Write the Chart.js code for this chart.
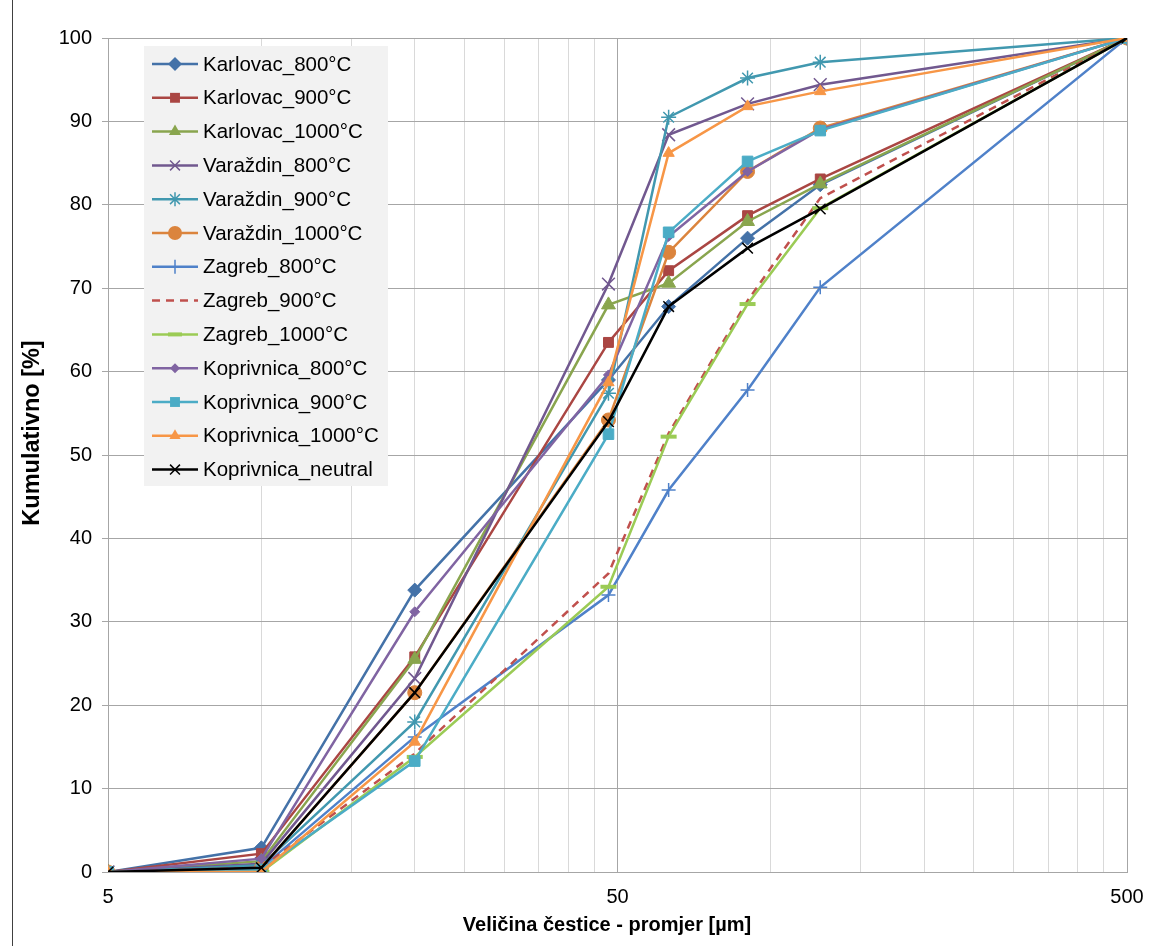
<!DOCTYPE html>
<html>
<head>
<meta charset="utf-8">
<script src="https://cdn.jsdelivr.net/npm/chart.js@4.4.1/dist/chart.umd.min.js"></script>
<style>
  html, body { margin: 0; padding: 0; background: #fff; }
  #wrap { position: relative; width: 1157px; height: 946px; }
  canvas { display: block; }
</style>
</head>
<body>
<div id="wrap"><canvas id="c" width="1157" height="946"></canvas></div>
<script>
// Particle sizes (µm)
const sizes = [5, 10, 20, 48, 63, 90, 125, 500];
const xTickLabels = [5, 50, 500];
const yTicks = [0, 10, 20, 30, 40, 50, 60, 70, 80, 90, 100];
const xTitle = 'Veličina čestice - promjer [µm]';
const yTitle = 'Kumulativno [%]';

const seriesNames = [
  'Karlovac_800°C', 'Karlovac_900°C', 'Karlovac_1000°C',
  'Varaždin_800°C', 'Varaždin_900°C', 'Varaždin_1000°C',
  'Zagreb_800°C', 'Zagreb_900°C', 'Zagreb_1000°C',
  'Koprivnica_800°C', 'Koprivnica_900°C', 'Koprivnica_1000°C',
  'Koprivnica_neutral'
];

const karlovac800   = [0, 2.9, 33.8, 59.0, 67.8, 76.0, 82.4, 100];
const karlovac900   = [0, 2.2, 25.8, 63.5, 72.1, 78.7, 83.1, 100];
const karlovac1000  = [0, 1.3, 25.5, 68.0, 70.6, 78.0, 82.5, 100];
const varazdin800   = [0, 1.0, 23.2, 70.5, 88.4, 92.1, 94.4, 100];
const varazdin900   = [0, 0.8, 18.0, 57.4, 90.5, 95.2, 97.1, 100];
const varazdin1000  = [0, 0.5, 21.5, 54.2, 74.3, 84.0, 89.2, 100];
const zagreb800     = [0, 0.5, 16.2, 33.2, 45.8, 57.8, 70.1, 100];
const zagreb900     = [0, 0.5, 14.2, 35.8, 52.6, 68.5, 80.8, 100];
const zagreb1000    = [0, 0.0, 13.8, 34.2, 52.2, 68.1, 79.6, 100];
const koprivnica800 = [0, 1.6, 31.2, 59.6, 76.2, 84.0, 89.0, 100];
const koprivnica900 = [0, 0.3, 13.3, 52.5, 76.7, 85.2, 88.9, 100];
const koprivnica1000= [0, 0.0, 15.6, 58.7, 86.2, 91.8, 93.6, 100];
const koprivnicaNeutral = [0, 0.5, 21.5, 54.0, 67.8, 74.8, 79.5, 100];

const seriesValues = [
  karlovac800, karlovac900, karlovac1000,
  varazdin800, varazdin900, varazdin1000,
  zagreb800, zagreb900, zagreb1000,
  koprivnica800, koprivnica900, koprivnica1000,
  koprivnicaNeutral
];

const FONT = '"Liberation Sans", Arial, sans-serif';

const styles = [
  { color: '#4472A8', point: 'rectRot', r: 7, bw: 1 },
  { color: '#AA4643', point: 'rect', r: 7, bw: 1 },
  { color: '#89A54E', point: 'triangle', r: 8, bw: 1 },
  { color: '#71588F', point: 'crossRot', r: 9, bw: 1.5 },
  { color: '#4198AF', point: 'star', r: 7.5, bw: 1.5 },
  { color: '#DB843D', point: 'circle', r: 7, bw: 1 },
  { color: '#4F81C9', point: 'cross', r: 7, bw: 1.5 },
  { color: '#C0504D', point: false, r: 0, bw: 0, dash: [8, 6] },
  { color: '#9BCB55', point: 'line', r: 8, bw: 4 },
  { color: '#8064A2', point: 'rectRot', r: 5, bw: 1 },
  { color: '#4BACC6', point: 'rect', r: 7.5, bw: 1 },
  { color: '#F79646', point: 'triangle', r: 6.5, bw: 1 },
  { color: '#000000', point: 'crossRot', r: 7.5, bw: 1.5 }
];

const datasets = seriesNames.map((name, i) => {
  const s = styles[i];
  return {
    label: name,
    data: sizes.map((x, j) => ({ x: x, y: seriesValues[i][j] })),
    borderColor: s.color,
    backgroundColor: s.color,
    borderWidth: 2.5,
    borderDash: s.dash || [],
    pointStyle: s.point,
    pointRadius: s.r,
    pointHoverRadius: s.r,
    pointBorderWidth: s.bw,
    pointBorderColor: s.color,
    pointBackgroundColor: s.color,
    tension: 0,
    order: seriesNames.length - i
  };
});

function drawMarker(ctx, s, x, y) {
  ctx.save();
  ctx.strokeStyle = s.color;
  ctx.fillStyle = s.color;
  ctx.lineWidth = s.bw;
  const r = s.r;
  ctx.beginPath();
  switch (s.point) {
    case 'rectRot':
      ctx.moveTo(x, y - r); ctx.lineTo(x + r, y); ctx.lineTo(x, y + r); ctx.lineTo(x - r, y); ctx.closePath();
      ctx.fill(); break;
    case 'rect': {
      const h = r * Math.SQRT1_2;
      ctx.rect(x - h, y - h, 2 * h, 2 * h); ctx.fill(); break;
    }
    case 'triangle':
      ctx.moveTo(x, y - r); ctx.lineTo(x + r * 0.866, y + r * 0.5); ctx.lineTo(x - r * 0.866, y + r * 0.5); ctx.closePath();
      ctx.fill(); break;
    case 'circle':
      ctx.arc(x, y, r, 0, Math.PI * 2); ctx.fill(); break;
    case 'crossRot': {
      const d = r * Math.SQRT1_2;
      ctx.moveTo(x - d, y - d); ctx.lineTo(x + d, y + d); ctx.moveTo(x + d, y - d); ctx.lineTo(x - d, y + d); ctx.stroke(); break;
    }
    case 'cross':
      ctx.moveTo(x, y - r); ctx.lineTo(x, y + r); ctx.moveTo(x - r, y); ctx.lineTo(x + r, y); ctx.stroke(); break;
    case 'star': {
      const d = r * Math.SQRT1_2;
      ctx.moveTo(x, y - r); ctx.lineTo(x, y + r); ctx.moveTo(x - r, y); ctx.lineTo(x + r, y);
      ctx.moveTo(x - d, y - d); ctx.lineTo(x + d, y + d); ctx.moveTo(x + d, y - d); ctx.lineTo(x - d, y + d); ctx.stroke(); break;
    }
    case 'line':
      ctx.moveTo(x - r, y); ctx.lineTo(x + r, y); ctx.stroke(); break;
  }
  ctx.restore();
}

const decorPlugin = {
  id: 'decor',
  afterDraw(chart) {
    const ctx = chart.ctx;
    ctx.save();
    // legend box
    const bx = 144, by = 46, bw = 244, bh = 440;
    ctx.fillStyle = '#F2F2F2';
    ctx.fillRect(bx, by, bw, bh);
    const step = 33.8;
    ctx.font = '20.5px ' + FONT;
    ctx.textBaseline = 'middle';
    ctx.textAlign = 'left';
    seriesNames.forEach((name, i) => {
      const s = styles[i];
      const y = 64 + i * step;
      ctx.save();
      ctx.strokeStyle = s.color;
      ctx.lineWidth = 2.5;
      if (s.dash) ctx.setLineDash(s.dash);
      ctx.beginPath();
      ctx.moveTo(152, y); ctx.lineTo(198, y); ctx.stroke();
      ctx.restore();
      if (s.point) drawMarker(ctx, { ...s, r: Math.min(s.r, 7) }, 175, y);
      ctx.fillStyle = '#000';
      ctx.fillText(name, 203, y + 1);
    });
    // axis titles
    ctx.fillStyle = '#000';
    ctx.textAlign = 'center';
    ctx.textBaseline = 'middle';
    ctx.font = 'bold 20px ' + FONT;
    ctx.fillText(xTitle, 607, 925);
    ctx.save();
    ctx.translate(33, 433);
    ctx.rotate(-Math.PI / 2);
    ctx.font = 'bold 23.5px ' + FONT;
    ctx.fillText(yTitle, 0, 0);
    ctx.restore();
    // outer frame line at left
    ctx.strokeStyle = '#404040';
    ctx.lineWidth = 1;
    ctx.beginPath();
    ctx.moveTo(12.5, 0); ctx.lineTo(12.5, 946); ctx.stroke();
    ctx.restore();
  }
};

const majorX = [5, 50, 500];

new Chart(document.getElementById('c'), {
  type: 'line',
  data: { datasets: datasets },
  plugins: [decorPlugin],
  options: {
    responsive: false,
    animation: false,
    events: [],
    layout: { padding: { left: 20, right: 30, top: 38, bottom: 8 } },
    plugins: {
      legend: { display: false },
      tooltip: { enabled: false }
    },
    scales: {
      x: {
        type: 'logarithmic',
        min: 5, max: 500,
        afterBuildTicks(scale) {
          const t = [];
          for (let k = 1; k <= 10; k++) t.push({ value: 5 * k });
          for (let k = 2; k <= 10; k++) t.push({ value: 50 * k });
          scale.ticks = t;
        },
        afterFit(scale) { scale.height = 66; },
        ticks: {
          autoSkip: false,
          maxRotation: 0,
          padding: 13,
          color: '#000',
          font: { size: 20, family: FONT },
          callback(value) { return xTickLabels.includes(value) ? String(value) : ''; }
        },
        grid: {
          drawTicks: false,
          color(ctx) {
            const v = ctx.tick && ctx.tick.value;
            return majorX.includes(v) ? '#A6A6A6' : '#D9D9D9';
          },
          lineWidth: 1
        },
        border: { display: true, color: '#A6A6A6', width: 1 },
        title: { display: false }
      },
      y: {
        type: 'linear',
        min: 0, max: 100,
        afterBuildTicks(scale) { scale.ticks = yTicks.map(v => ({ value: v })); },
        afterFit(scale) { scale.width = 88; },
        ticks: {
          color: '#000',
          padding: 10,
          font: { size: 20, family: FONT }
        },
        grid: {
          color: '#A6A6A6',
          lineWidth: 1,
          tickLength: 6,
          drawTicks: true
        },
        border: { display: true, color: '#A6A6A6', width: 1 },
        title: { display: false }
      }
    }
  }
});
</script>
</body>
</html>
